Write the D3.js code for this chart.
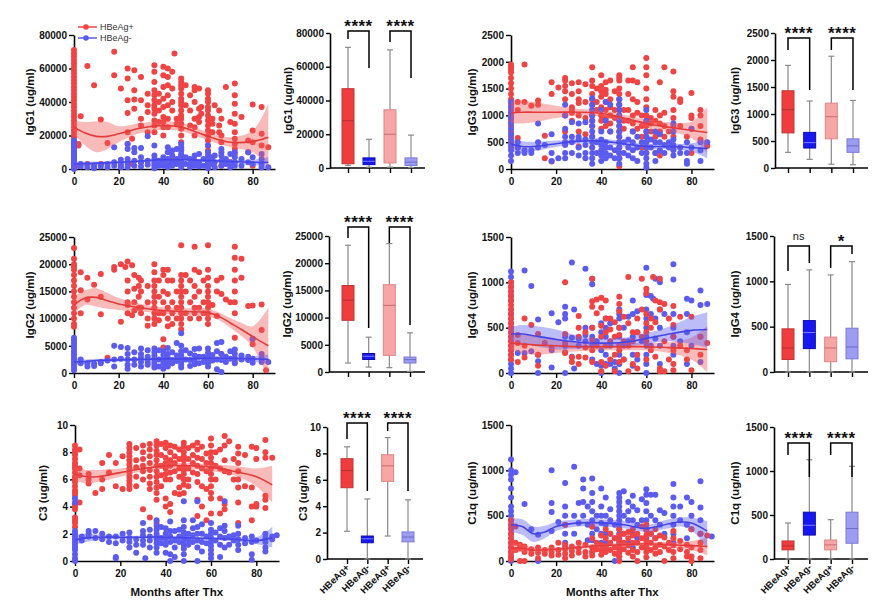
<!DOCTYPE html>
<html><head><meta charset="utf-8">
<script src="https://cdn.jsdelivr.net/npm/d3@7"></script>
<style>
body{margin:0;background:#fff;}
svg text{font-family:"Liberation Sans",Arial,Helvetica,sans-serif;}
</style></head><body>
<svg id="c" width="875" height="612"></svg>
<script>
// ---------------- DATA ----------------
const groups = ["HBeAg+", "HBeAg-"];
const boxCategories = ["HBeAg+", "HBeAg-", "HBeAg+ ", "HBeAg- "];
const monthTicks = [0, 20, 40, 60, 80];

// scatter values grouped by month: [month, [values...]]
const igg1Pos = [
 [0,[71e3,69e3,67e3,65e3,63e3,61e3,59e3,57e3,55e3,53e3,51e3,49e3,47e3,45e3,43e3,41e3,39e3,37e3,35e3,33e3,31e3,29e3,27e3,25e3,23e3,21e3,19e3,17e3,15e3,13e3,11e3,9e3,7e3,5e3,3e3,1e3]],
 [2,[15e3,14e3,2e3]],[3,[31.5e3]],[6,[61.5e3,3e3]],[9,[50e3,2e3]],[12,[29.5e3,3e3]],[15,[15.5e3]],
 [18,[70e3,56e3]],[21,[48e3,2e3]],[24,[60e3,54e3,41e3,33.5e3,22e3,15e3]],[26,[18e3,3e3]],
 [27,[59e3,47e3,41.5e3,36e3]],[30,[55e3,41e3,30e3,26e3,4e3]],[33,[45e3,38e3,34e3,22e3]],
 [36,[62e3,58e3,52e3,47e3,44e3,41e3,38e3,36e3,33e3,29e3,26e3,22e3,3e3]],[38,[45e3,40e3,35e3,28e3]],
 [40,[61e3,56e3,49e3,42e3,37e3,31e3,28e3,25e3,20e3,4e3]],[42,[60e3,55e3,50e3,44e3,38e3,30e3,25e3]],
 [44,[58e3,48e3,40e3,35e3,5e3]],[45,[69e3]],[46,[30e3,27e3]],
 [48,[54e3,52e3,50e3,48e3,45e3,42e3,40e3,38e3,35e3,32e3,30e3,27e3,24e3,20e3,16e3,12e3,8e3,4e3]],
 [50,[50e3,38e3]],[52,[44e3,35e3,26e3]],[54,[49e3,47e3,40e3,30e3,25e3,20e3]],[56,[48e3,36e3,31e3,28e3]],
 [57,[37e3,33e3]],[60,[47e3,45e3,42e3,40e3,37e3,35e3,32e3,29e3,26e3,23e3,20e3,17e3,14e3,11e3,3e3]],
 [62,[30e3,27e3,22e3]],[63,[38e3]],[65,[35e3,26e3,22e3]],[66,[30e3,20e3,16e3,2e3]],[68,[49e3]],[70,[28e3,4e3]],
 [72,[51e3,44e3,39e3,33e3,27e3,22e3,18e3,15e3,12e3,9e3]],[75,[31e3]],[78,[17e3,10e3]],
 [80,[38.5e3,23e3,16e3,2e3]],[84,[37e3,21e3,14e3]],[87,[13e3]]
];
const igg1Neg = [
 [0,[17e3,16e3,15e3,14e3,13e3,12e3,11e3,10e3,9e3,8e3,7e3,6e3,5e3,4e3,3e3,2e3,1e3,0]],
 [3,[3e3,1.5e3]],[6,[2.5e3,1e3]],[9,[2e3,0.5e3]],[12,[2.5e3,1.5e3]],[15,[3e3,1e3]],[18,[13e3,4e3,2e3]],
 [21,[5.5e3,3e3,1e3]],[24,[15e3,12e3,6e3,3e3,1e3]],[27,[12.5e3,10e3,5e3,2e3]],[30,[12.5e3,7e3,4e3,1.5e3]],
 [33,[19.5e3,5e3,2.5e3]],[36,[14e3,8e3,6e3,4e3,2e3,0.5e3]],[38,[5e3,2e3]],[40,[7e3,4e3,2e3]],
 [42,[13e3,10e3,6e3,3e3,1e3]],[44,[11e3,8e3,4e3,2e3]],[46,[12e3,6e3,3e3]],
 [48,[15e3,13e3,11e3,9e3,7e3,5e3,3e3,1e3]],[50,[7e3,3e3]],[52,[6e3,3e3,1e3]],[54,[8e3,5e3,2e3]],
 [56,[9e3,4e3,1.5e3]],[58,[6e3,2e3]],[60,[14e3,10e3,8e3,6e3,4e3,2e3,0.5e3]],[62,[7e3,3e3]],[63,[8e3,4e3,1e3]],
 [66,[12e3,10e3,8e3,5e3,2e3]],[68,[6e3,3e3]],[70,[9e3,4e3,1e3]],[72,[10e3,7e3,4e3,2e3]],[75,[6e3,2e3]],
 [78,[10e3,4e3]],[80,[7e3,3e3]],[84,[9e3,6e3,3e3,1e3]],[87,[1e3]]
];
// fitted curve: [month, fit, lower, upper]
const igg1FitPos = [[0,25e3,21e3,29e3],[5,21.5e3,14e3,28e3],[10,19.5e3,10e3,28.5e3],[15,19.5e3,12e3,28e3],[20,21e3,16e3,25.5e3],[30,24.5e3,21.5e3,27.5e3],[40,26e3,23.5e3,28.5e3],[48,25e3,22.5e3,27.5e3],[55,22e3,19.5e3,24.5e3],[60,19.5e3,17e3,22e3],[70,16e3,13e3,19e3],[80,16.5e3,10e3,23e3],[87,19e3,1e3,39e3]];
const igg1FitNeg = [[0,3e3,1.5e3,4.5e3],[10,3.5e3,2.5e3,4.5e3],[20,4e3,3.2e3,4.8e3],[30,4.8e3,4e3,5.6e3],[40,5.5e3,4.7e3,6.3e3],[50,5.5e3,4.7e3,6.3e3],[60,5e3,4.2e3,5.8e3],[70,4.5e3,3.5e3,5.5e3],[80,4e3,2.5e3,5.5e3],[87,4e3,1e3,7e3]];

const igg3Pos = [
 [0,[1950,1900,1850,1800,1700,1600,1500,1400,1300,1200,1100,1000,950,900,800,700,600,500,400]],
 [3,[1250,1100,580,400]],[6,[1950,1250]],[9,[1180]],[12,[1280,1200]],[15,[620,200]],[18,[1620,1400,140]],
 [21,[1520]],[24,[1700,1650,1550,1450,1300,1000,700,480]],[27,[1600,1400,1150,1100,1050,900]],
 [30,[1620,1450,1300,1230,1000,700,420]],[33,[1580,1250,950,650]],
 [36,[1900,1650,1550,1400,1300,1200,1100,1000,900,800,600,400]],[38,[1500,1250,1100]],
 [40,[1750,1550,1450,1350,1150,1000,900,750]],[42,[1620,1480,1400,1250,1100,950,800]],
 [44,[1650,1300,1150,1000,850,700]],[46,[1450,1100,950]],
 [48,[1750,1700,1650,1500,1400,1300,1200,1100,1000,900,800,700,600,500,400,300,200,50]],
 [50,[1100,900,750]],[52,[1650,1400,1100,900]],[54,[1900,1650,1300,1000,850,700]],[56,[1620,1250,1050,750]],
 [58,[1000,800,600,400]],[60,[2070,1900,1750,1500,1300,1150,1000,900,800,700,600,500,400,300]],
 [62,[950,850,700]],[64,[1100,900,600,300]],[66,[1620,1000,850,700,250]],[68,[1900,1050,800,600]],[70,[700]],
 [72,[1820,1450,1350,1100,950,800,600,400]],[75,[1300,1250,800]],[78,[600]],[80,[1420,1000,950,750,300]],
 [84,[1100,1000,800,550]],[87,[450,430]]
];
const igg3Neg = [
 [0,[1250,1150,1050,950,850,750,650,550,450,350,250,150]],[3,[500,400,300]],[6,[350,300]],[9,[350,300]],
 [12,[850,500,400]],[15,[450]],[18,[650,300,150]],[21,[200]],[24,[1200,1000,750,600,500,450,300,200]],
 [27,[870,600,500,300]],[30,[850,600,550,400,250]],[33,[870,550,450,300,200]],
 [36,[1320,1200,1100,1000,900,800,700,600,500,400,300,200,100]],[38,[500,300]],
 [40,[1100,700,550,450,350,250,150]],[42,[1250,900,500,400,300,200]],[44,[1200,700,400,250]],[46,[350,200]],
 [48,[1300,1200,1100,1000,900,800,700,600,500,400,300,200,100]],[50,[500,300]],[52,[550,400,250]],
 [54,[700,500,350,200]],[56,[600,400,150]],[58,[500,300]],[60,[1100,900,700,600,500,400,300,200,100,30]],
 [62,[550,400]],[64,[700,500,300,150]],[66,[650,500,350]],[68,[450,300]],[70,[500,400]],
 [72,[850,700,550,450,350,250]],[75,[400,300]],[78,[500,300,150,100]],[80,[750,400]],[84,[500,350,150]],[87,[500]]
];
const igg3FitPos = [[0,1050,850,1280],[5,1060,850,1280],[10,1060,870,1250],[20,1060,950,1180],[30,1060,1000,1120],[40,1040,980,1100],[50,950,890,1010],[60,850,780,920],[70,780,700,870],[80,720,580,880],[87,680,300,1150]];
const igg3FitNeg = [[0,470,330,560],[5,420,300,520],[10,420,330,510],[20,470,410,530],[30,520,470,570],[40,520,470,570],[50,470,420,520],[60,420,370,470],[70,420,370,470],[80,400,320,480],[87,380,200,560]];

const igg2Pos = [
 [0,[23e3,21e3,20e3,19.5e3,19e3,18e3,17e3,16e3,15e3,14e3,13e3,12e3,11e3,10e3,9e3,8.5e3]],
 [3,[18.5e3,15.2e3,11e3]],[6,[17.5e3,13.5e3]],[9,[16.2e3]],[12,[18.2e3,14e3,10.8e3]],[15,[2.8e3]],
 [18,[19.5e3,19e3]],[21,[20e3,9.4e3]],[23,[19.5e3]],[24,[20.5e3,17e3,15e3,13e3,12.5e3,11e3]],[26,[19.8e3,10.6e3]],
 [27,[18e3,15.5e3,13e3,11.5e3]],[29,[17.5e3,16e3,14e3,12e3]],[30,[17e3,15e3,12e3,11e3]],[33,[16e3,13e3,10e3,8.7e3]],
 [36,[20e3,18.5e3,17e3,16e3,15e3,14e3,13e3,12e3,11e3,10e3,9e3]],[38,[17e3,14e3,11e3,9.7e3]],
 [40,[19e3,18e3,15e3,13e3,11e3,6.2e3,4.7e3]],[42,[19e3,17e3,14.5e3,12e3,10e3,8.6e3]],[44,[17e3,13e3,11e3,9e3]],
 [46,[15e3,12e3,10e3]],[48,[23.5e3,18e3,17e3,16e3,15e3,14e3,13e3,12e3,11e3,10e3,9e3,8e3]],
 [50,[18e3,15e3,11e3]],[52,[17e3,13e3,10e3]],[54,[23.2e3,19e3,16e3,14e3,12e3,11e3]],[56,[18.5e3,15e3,12e3,10e3]],
 [58,[17e3,13e3,11e3]],[60,[23.5e3,19e3,17.5e3,16e3,15e3,14e3,13e3,12e3,11e3,10e3,9e3]],[62,[12.5e3]],
 [64,[17e3,15e3,10.5e3]],[66,[17.5e3,14.5e3,3.5e3]],[68,[13.5e3]],[70,[13e3]],
 [72,[23.2e3,21.2e3,19e3,17e3,15e3,13e3,11e3,6.5e3,2e3]],[75,[21e3,17.5e3]],[78,[12.3e3]],
 [80,[12.4e3,6.2e3,5.3e3]],[84,[12.6e3,7.9e3]],[86,[0.5e3]]
];
const igg2Neg = [
 [0,[6.5e3,6e3,5.5e3,5e3,4.5e3,4e3,3.5e3,3e3,2.5e3,2e3,1.5e3,1e3,0.5e3]],[3,[2.5e3,1.8e3]],[6,[1.8e3,1.2e3]],
 [9,[1.7e3,1.3e3]],[12,[2e3,1.8e3]],[15,[2.3e3]],[18,[5e3,2.5e3,1.2e3]],[21,[4.8e3,2.6e3]],
 [24,[4.6e3,3.5e3,2.5e3,1.5e3,0.8e3]],[27,[3.8e3,2.5e3,1.5e3]],[30,[4.5e3,3.5e3,2.8e3,2e3,1.2e3]],
 [33,[4.2e3,3e3,2e3,1.5e3]],[36,[4.5e3,3.8e3,3.2e3,2.6e3,2e3,1.5e3,1e3]],[38,[4.2e3,2.5e3,1.2e3]],
 [40,[4e3,3.3e3,2.5e3,1.8e3,0.8e3]],[42,[4.6e3,3.5e3,2.7e3,2e3,1.2e3]],[44,[3.8e3,2.4e3,1.8e3]],
 [46,[5.5e3,3.2e3,2.2e3]],[48,[7.3e3,5e3,4e3,3.3e3,2.6e3,2e3,1.5e3,1e3]],[50,[4.2e3,2.5e3]],
 [52,[3.6e3,2.4e3,1.3e3]],[54,[4.4e3,3.2e3,2.3e3,1.6e3]],[56,[4.5e3,3e3,1.8e3]],[58,[3e3,2e3]],
 [60,[4.5e3,3.7e3,3e3,2.4e3,1.8e3,1.2e3]],[62,[3.3e3,2.3e3]],[64,[5.5e3,4e3,2.5e3,0.7e3]],
 [66,[5.7e3,3.5e3,2.4e3,0.2e3]],[68,[3e3,2e3]],[70,[4e3,2.6e3]],[72,[4.3e3,3.5e3,2.6e3,1.8e3]],
 [75,[3.2e3,2.5e3]],[78,[3e3,2.4e3]],[80,[6.3e3,2.6e3,1.9e3]],[84,[3.5e3,2.6e3,2e3]],[87,[2e3]]
];
const igg2FitPos = [[0,12.5e3,11e3,14e3],[5,13.8e3,12.5e3,15.2e3],[10,13.9e3,12.2e3,15.6e3],[15,13.3e3,11.8e3,14.7e3],[20,12.7e3,11.6e3,13.8e3],[30,12e3,11.3e3,12.7e3],[40,11.5e3,10.9e3,12.1e3],[50,11.3e3,10.7e3,11.9e3],[60,11.1e3,10.4e3,11.8e3],[65,10.4e3,9.7e3,11.1e3],[70,9.2e3,8.3e3,10.1e3],[75,8e3,6.8e3,9.2e3],[80,6.7e3,4.8e3,8.6e3],[87,5e3,-1e3,12e3]];
const igg2FitNeg = [[0,2e3,1.5e3,2.7e3],[5,2.1e3,1.7e3,2.5e3],[10,2.3e3,2e3,2.6e3],[20,2.4e3,2.1e3,2.7e3],[30,2.5e3,2.2e3,2.8e3],[40,2.6e3,2.3e3,2.9e3],[50,2.6e3,2.3e3,2.9e3],[60,2.7e3,2.4e3,3e3],[70,2.7e3,2.3e3,3.1e3],[80,2.6e3,2.1e3,3.1e3],[87,2.5e3,1.7e3,3.4e3]];

const igg4Pos = [
 [0,[1000,950,900,850,800,750,700,650,600,550,500,450,400,350,300,250,200,150]],[3,[420,330,120]],[6,[600,300,170]],
 [9,[530]],[12,[430,200,80]],[15,[330]],[18,[280]],[24,[1000,430,330,220]],[27,[170,120]],[30,[630,500,400,180,100]],
 [33,[450,280,170]],[36,[1040,790,730,500,360,250,120]],[38,[810,660,300]],[40,[830,720,520,400,120,20]],
 [42,[800,600,450,300,80]],[44,[600,480,350,150]],[46,[560,400,200,20]],[48,[840,760,680,500,420,300,250,120]],
 [50,[620,350,150]],[52,[1060,550,300,20]],[54,[450,350,100]],[56,[600,450,200,50]],[58,[1040,700,400]],
 [60,[930,880,650,550,450,350,150]],[62,[600,500,250]],[63,[1060]],[64,[800,560,180]],[66,[1040,780,700,50,20]],
 [68,[760,350,20]],[70,[600,150]],[72,[740,530,400,250,100,30]],[75,[620,300]],[78,[250,150]],[80,[620,30]],
 [84,[400,200]],[87,[330]]
];
const igg4Neg = [
 [0,[1120,1060,1000,950,900,850,800,700,650,600,550,500,450,400,350,300,250,200,150,100,50,0]],[3,[220]],
 [6,[1130,220]],[9,[960,240]],[12,[590,200,130,0]],[18,[660,250,60]],[21,[560]],[24,[730,650,600,400,300,230,0]],
 [27,[1220,390,180]],[28,[700,50]],[30,[380,300]],[33,[1150,500,420,350]],[36,[1040,980,500,400,300,150]],
 [38,[350,100]],[40,[550,450,250,80,0]],[42,[600,500,400,200,100]],[44,[550,300,100]],[46,[120,50]],
 [48,[700,650,600,500,400,300,200,100,0]],[50,[500,300,150]],[52,[620,350]],[54,[800,650,400,200,80]],
 [56,[680,450,150]],[58,[350]],[60,[1160,860,700,600,500,400,300,200,100,0]],[62,[850,650,300]],[63,[820]],
 [64,[1040,600,380]],[66,[1000,700,500,300,100]],[68,[650]],[72,[1200,1030,650,500,400,300,200]],[75,[350]],
 [78,[820,650,450,100]],[80,[800,300]],[84,[910,750,400,120]],[87,[760]]
];
const igg4FitPos = [[0,330,250,420],[5,320,220,420],[10,310,200,420],[20,300,220,380],[30,290,240,340],[40,290,250,330],[50,290,250,330],[60,290,250,330],[70,280,220,340],[80,270,150,390],[87,260,10,520]];
const igg4FitNeg = [[0,430,350,510],[5,430,330,530],[10,410,300,520],[20,370,260,480],[30,340,270,410],[40,330,280,380],[50,340,290,390],[60,380,320,440],[70,430,350,510],[80,470,320,620],[87,480,280,670]];

const c3Pos = [
 [0,[8.5,8.2,8,7.8,7.5,7.2,7,6.8,6.5,6.2,6,5.8,5.5,5.2,5,4.8,4.2,4,3.8,3.2,3,2.8,2.5]],[2,[8.2,6.8,6.3,4.3]],
 [6,[6.4,6,5.7]],[9,[5]],[12,[7.2,6,5.3]],[15,[7.8,6.5]],[18,[7.2,5.5]],[21,[7.7,5.3]],
 [24,[8.6,8.3,8,7.7,7.4,7.1,6.8,6.5,6.2,5.9,5.6,5.3]],[27,[8.3,7.4,6.9,6.2,5.5]],[30,[8.5,8,7.5,7,6.6,6,3.8]],
 [33,[8.6,8.2,7.7,7.2,6.7,6.2,5.7,5.3,3.2]],[36,[8.8,8.5,8.1,7.8,7.4,7,6.6,6.2,5.8,5.4,5,4.5,2.8]],
 [38,[8.6,7.8,7,6.3,5.5]],[40,[8.7,8.3,7.6,7.2,6.8,6.4,6,4.6,4]],[42,[8.5,8,7.4,7,6.5,6,4.2,3.6]],
 [44,[8.4,7.7,7.2,6.6,5]],[46,[8.2,7.5,6.8,6.2,5.4,4.9]],[48,[8.7,8.4,8,7.7,7.4,7,6.7,6.4,6,5.6,5]],
 [50,[8.3,7.5,6.8,6,5.5]],[52,[8.5,7.8,7.2,6.5]],[54,[8.7,8.2,7.6,7,6.4,5.8,4.5,3.3]],[56,[8.4,7.5,6.8,5.5,4]],
 [58,[7.9,7.2,6.6,5.3,3]],[60,[9,8.5,8,7.6,7.2,6.8,6.4,6,5.5,5,4.6,3.5]],[62,[8,7,6]],[64,[8.2,6.8,4.6,3.5]],
 [66,[9.2,8.5,7.4,6.6,4.2,3.8]],[68,[8.8,6.5]],[70,[7.5,6]],[72,[8.4,7.9,7.2,6.6,6,5.4,4.3,2.8]],[75,[7.8,5.5]],
 [78,[8.4,5.4,4,3]],[80,[8.3,7.5,4.2,4]],[84,[8.9,8,7.6,4.8,4.5,3.9]],[87,[7.6]]
];
const c3Neg = [
 [0,[4.6,4.3,2.2,2,1.8,1.6,1.4,1.2,1,0.8,0.5,0.2,0]],[3,[1.8,1.5]],[6,[2.2,2,1.8]],[9,[2.2,1.7]],[12,[2,1.6]],
 [15,[1.8,1.4]],[18,[1.8,1.3,0.3,0.2]],[21,[2,1.5]],[24,[2.1,1.7,1.4,1]],[27,[1.6,1.2,0.6]],[30,[2.8,2.2,1.9,1.5,1.2]],
 [31,[0.2]],[33,[2.3,1.8,1.5,1]],[36,[3,2.6,2.3,2,1.8,1.6,1.3,1,0.6]],[38,[2.5,1.7,1.3]],[40,[2.4,2,1.6,1.2,0.6]],
 [42,[2.9,2.2,1.8,1.4,0.5,0]],[44,[2.2,1.5,1,0.3]],[46,[2.3,1.8,1.4]],[48,[4.4,3,2.5,2.1,1.8,1.5,1.2,0.9,0.5,0]],
 [50,[2,1.6,1.2]],[52,[3,2.4,1.9,1.4]],[54,[4.4,2.5,2,1.5,1,0]],[56,[2.7,2,1.4,0.7]],[58,[1.8,1.3]],
 [60,[2.8,2.3,2,1.7,1.4,1.1,0.8,0.5,0.2]],[62,[2.1,1.5]],[64,[2.4,1.8,1.2,0.3]],[66,[4.4,2.6,2.2,1.7,1]],
 [68,[1.8,1.2]],[70,[1.9,1.5]],[72,[2.6,2,1.6,1.2,0.8]],[75,[1.7,1.3]],[78,[1.8,1.4,0.5,0.1]],[80,[1.5]],
 [84,[2,1.7,1.4,1,0.7]],[87,[1.8,1.6]],[89,[1.9]]
];
const c3FitPos = [[0,6.4,5.9,6.9],[5,6.2,5.7,6.7],[10,6.2,5.8,6.7],[20,6.5,6.2,6.8],[30,6.8,6.6,7.0],[40,7.0,6.8,7.2],[50,7.0,6.8,7.2],[60,6.9,6.6,7.1],[70,6.6,6.3,7.0],[80,6.2,5.5,6.8],[87,5.6,4.3,7.0]];
const c3FitNeg = [[0,1.55,1.2,1.9],[5,1.7,1.4,2.0],[10,1.75,1.55,1.95],[20,1.75,1.6,1.9],[30,1.75,1.65,1.85],[40,1.75,1.65,1.85],[50,1.7,1.6,1.8],[60,1.65,1.55,1.75],[70,1.6,1.45,1.75],[80,1.5,1.25,1.75],[87,1.7,1.0,2.5]];

const c1qPos = [
 [0,[450,400,350,300,250,200,150,100,50,20]],[2,[380,200,120]],[4,[180,140,0]],[6,[160,100,0]],[9,[130,80]],
 [12,[150,90,30]],[15,[120,80]],[18,[150,100,60]],[21,[200,120,70]],[24,[400,180,130,80,30]],[27,[160,110,60]],
 [30,[200,140,90]],[33,[180,100,50]],[36,[380,250,150,100,60]],[38,[200,130]],[40,[280,180,120,70]],
 [42,[350,250,160,100]],[44,[300,200,120]],[46,[250,150,80]],[48,[350,280,220,160,100,50,0]],[50,[300,200,130]],
 [52,[320,250,170,90]],[54,[350,280,200,120,50]],[56,[300,200,100,0]],[58,[380,250,150]],
 [60,[400,340,280,220,160,100,40]],[62,[300,200,120]],[64,[350,250,150,80]],[66,[280,180,100]],[68,[260,160,0]],
 [70,[200,120]],[72,[330,250,170,100,30]],[75,[220,130]],[78,[180,100,50]],[80,[350,150,50,0]],
 [84,[300,200,120,30]],[87,[280]]
];
const c1qNeg = [
 [0,[1120,1000,950,900,800,700,600,550,500,450,400,350,300,250,200,150,100,50,0]],[2,[980]],[6,[630]],[9,[350]],
 [12,[290,0]],[18,[1000,640,540,330]],[21,[430]],[24,[860,600,500,400,300,200,150]],[28,[1040,500,300]],
 [30,[640,420]],[32,[900,800,650,500]],[34,[600,400,230]],[36,[910,750,650,550,450,380,300,230,100]],
 [38,[500,350]],[40,[800,600,500,420,300,200]],[42,[700,500,400,300,200,150]],[44,[570,450,300]],[46,[400,250,0]],
 [48,[750,700,650,600,550,500,450,400,350,300,250,200,150,100,50]],[50,[770,500,300]],[52,[650,550,450,200]],
 [54,[720,600,450,300,150]],[56,[560,400,250]],[58,[680,450]],[60,[790,730,640,550,450,350,250,150]],
 [62,[730,500,300]],[64,[730,450,250]],[66,[560,400]],[68,[530,300]],[72,[850,700,600,500,400,300,200]],
 [75,[600,450]],[78,[700,400,250]],[80,[650,500,350]],[84,[880,590,450,300]],[89,[270]]
];
const c1qFitPos = [[0,140,80,200],[5,140,100,180],[10,120,90,150],[20,130,110,150],[30,150,130,170],[40,170,150,190],[50,180,160,200],[60,190,170,210],[70,180,150,210],[80,170,120,220],[87,160,60,260]];
const c1qFitNeg = [[0,400,320,470],[5,380,290,460],[10,300,210,380],[15,320,250,390],[20,380,330,430],[30,420,380,460],[40,420,380,460],[50,400,360,440],[60,360,320,400],[70,410,360,460],[75,430,380,480],[80,420,340,480],[87,330,140,440]];

// box summaries: [min, q1, median, q3, max] for the 4 boxes
const igg1Box = [[1500,2500,28000,47000,71500],[500,2000,4000,6000,17000],[500,3000,20000,34500,70000],[300,1500,3500,6000,19500]];
const igg3Box = [[290,650,1080,1430,1900],[160,370,470,660,1240],[70,540,950,1200,2070],[60,290,410,540,1250]];
const igg2Box = [[1650,9500,13200,15900,23300],[900,2300,2900,3400,6400],[800,3060,12250,16050,23600],[100,1650,2270,2750,7200]];
const igg4Box = [[0,138,265,476,966],[0,258,436,567,1126],[0,113,265,385,1071],[0,145,276,483,1217]];
const c3Box = [[2.1,5.4,6.7,7.6,8.5],[0,1.23,1.53,1.74,4.55],[1.74,5.88,7.06,7.9,9.2],[0,1.3,1.66,2.05,4.48]];
const c1qBox = [[0,104,149,205,409],[0,272,383,532,1128],[0,104,160,216,447],[0,179,346,532,1053]];

const igg1Sig = ["****","****"];
const igg3Sig = ["****","****"];
const igg2Sig = ["****","****"];
const igg4Sig = ["ns","*"];
const c3Sig = ["****","****"];
const c1qSig = ["****","****"];

// ---------------- STYLE / LAYOUT ----------------
const RED = "#f04343", BLUE = "#5b5bef";
const BAND_RED = "rgba(240,90,90,0.42)", BAND_BLUE = "rgba(95,95,240,0.42)";
const LINE_RED = "#e43a3a", LINE_BLUE = "#4646e6";
const BOX_FILL = ["#f03c3c","#1717f0","#f7a6a6","#9c9cf2"];
const BOX_STROKE = ["#c23535","#0c0cb0","#df8585","#7b7bd6"];
const MED_STROKE = ["#b52f2f","#7d7dff","#c96a6a","#6d6dc8"];
const WHISK = "#8a8a8a";

const svg = d3.select("#c");

const rows = [{yb:169,yt:35},{yb:373,yt:237},{yb:561,yt:425}];
const boxRows = [{yb:168,yt:33},{yb:372,yt:236},{yb:559,yt:427}];

const scatterPanels = [
 {title:"IgG1 (ug/ml)", pos:igg1Pos, neg:igg1Neg, fp:igg1FitPos, fn:igg1FitNeg, max:80000, step:20000, x0:74, x1:275, row:0, lx:30, negTop:true, legend:true},
 {title:"IgG3 (ug/ml)", pos:igg3Pos, neg:igg3Neg, fp:igg3FitPos, fn:igg3FitNeg, max:2500, step:500, x0:511, x1:714, row:0, lx:472, negTop:true},
 {title:"IgG2 (ug/ml)", pos:igg2Pos, neg:igg2Neg, fp:igg2FitPos, fn:igg2FitNeg, max:25000, step:5000, x0:74, x1:275, row:1, lx:30, negTop:true},
 {title:"IgG4 (ug/ml)", pos:igg4Pos, neg:igg4Neg, fp:igg4FitPos, fn:igg4FitNeg, max:1500, step:500, x0:511, x1:714, row:1, lx:472, negTop:false},
 {title:"C3 (ug/ml)", pos:c3Pos, neg:c3Neg, fp:c3FitPos, fn:c3FitNeg, max:10, step:2, x0:75, x1:279, row:2, lx:43, negTop:true, xlabel:true},
 {title:"C1q (ug/ml)", pos:c1qPos, neg:c1qNeg, fp:c1qFitPos, fn:c1qFitNeg, max:1500, step:500, x0:511, x1:714, row:2, lx:472, negTop:false, xlabel:true}
];

// brackets: [barOffset, leftLegEnd, rightLegEnd] offsets in px from plot top
const boxPanels = [
 {title:"IgG1 (ug/ml)", stats:igg1Box, sig:igg1Sig, max:80000, step:20000, ax:330, c0:348, c1:411, end:425, row:0, lx:288, br:[[-2,6,35],[-2,9,45]]},
 {title:"IgG3 (ug/ml)", stats:igg3Box, sig:igg3Sig, max:2500, step:500, ax:775, c0:788, c1:853, end:868, row:0, lx:735, br:[[5,17,57],[5,17,57]]},
 {title:"IgG2 (ug/ml)", stats:igg2Box, sig:igg2Sig, max:25000, step:5000, ax:329, c0:348, c1:410, end:425, row:1, lx:287, br:[[-9,2,92],[-9,7,89]]},
 {title:"IgG4 (ug/ml)", stats:igg4Box, sig:igg4Sig, max:1500, step:500, ax:774, c0:788, c1:852, end:868, row:1, lx:735, br:[[10,35,27],[10,32,18]]},
 {title:"C3 (ug/ml)", stats:c3Box, sig:c3Sig, max:10, step:2, ax:327, c0:347, c1:408, end:423, row:2, lx:303, br:[[-4,12,64],[-4,4,64]], xlabels:true},
 {title:"C1q (ug/ml)", stats:c1qBox, sig:c1qSig, max:1500, step:500, ax:774, c0:788, c1:852, end:868, row:2, lx:735, br:[[16,28,50],[16,28,50]], xlabels:true}
];

function styleAxis(g){
  g.selectAll("path.domain").attr("stroke","#000").attr("stroke-width",1.6);
  g.selectAll(".tick line").attr("stroke","#000").attr("stroke-width",1.4);
  g.selectAll(".tick text").attr("fill","#111").attr("font-size",10).attr("font-weight","bold")
   .attr("font-family",'"Liberation Sans",Arial,sans-serif');
}
function yTitle(x, yc, text){
  svg.append("text").attr("transform",`translate(${x},${yc}) rotate(-90)`).attr("text-anchor","middle")
    .attr("dy","0.35em").attr("font-size",11.5).attr("font-weight","bold").attr("fill","#111").text(text);
}
const flat = arr => arr.flatMap(([m, vs]) => vs.map(v => [m, v]));

// ---------------- SCATTER PANELS ----------------
scatterPanels.forEach((p, i) => {
  const r = rows[p.row];
  const x = d3.scaleLinear().domain([0, 90]).range([p.x0, p.x1]);
  const y = d3.scaleLinear().domain([0, p.max]).range([r.yb, r.yt]);
  const g = svg.append("g");
  const clipId = "clip" + i;
  svg.append("clipPath").attr("id", clipId).append("rect")
    .attr("x", p.x0).attr("y", r.yt - 2).attr("width", p.x1 - p.x0 + 2).attr("height", r.yb - r.yt + 2);

  const xa = g.append("g").attr("transform", `translate(0,${r.yb})`)
    .call(d3.axisBottom(x).tickValues(monthTicks).tickSize(5).tickPadding(4).tickSizeOuter(0));
  styleAxis(xa);
  const yticks = d3.range(0, p.max + p.step / 2, p.step);
  const ya = g.append("g").attr("transform", `translate(${p.x0},0)`)
    .call(d3.axisLeft(y).tickValues(yticks).tickFormat(d3.format("d")).tickSize(5).tickPadding(2).tickSizeOuter(0));
  styleAxis(ya);

  const order = p.negTop ? [[p.pos, RED], [p.neg, BLUE]] : [[p.neg, BLUE], [p.pos, RED]];
  order.forEach(([data, col]) => {
    g.append("g").selectAll("circle").data(flat(data)).join("circle")
      .attr("cx", d => x(d[0])).attr("cy", d => y(d[1])).attr("r", 3).attr("fill", col);
  });

  const area = d3.area().x(d => x(d[0])).y0(d => y(d[2])).y1(d => y(d[3])).curve(d3.curveCatmullRom);
  const line = d3.line().x(d => x(d[0])).y(d => y(d[1])).curve(d3.curveCatmullRom);
  const fg = g.append("g").attr("clip-path", `url(#${clipId})`);
  fg.append("path").attr("d", area(p.fp)).attr("fill", BAND_RED);
  fg.append("path").attr("d", area(p.fn)).attr("fill", BAND_BLUE);
  fg.append("path").attr("d", line(p.fp)).attr("fill", "none").attr("stroke", LINE_RED).attr("stroke-width", 1.6);
  fg.append("path").attr("d", line(p.fn)).attr("fill", "none").attr("stroke", LINE_BLUE).attr("stroke-width", 1.6);

  yTitle(p.lx, (r.yb + r.yt) / 2, p.title);
  if (p.xlabel) {
    svg.append("text").attr("x", (p.x0 + x(88)) / 2 + 2).attr("y", 596).attr("text-anchor", "middle")
      .attr("font-size", 11.5).attr("font-weight", "bold").attr("fill", "#111").text("Months after Thx");
  }
  if (p.legend) {
    const lg = svg.append("g");
    [[groups[0], RED, 27], [groups[1], BLUE, 38]].forEach(([t, c, yy]) => {
      lg.append("line").attr("x1", 78).attr("x2", 97).attr("y1", yy).attr("y2", yy).attr("stroke", c).attr("stroke-width", 1.5);
      lg.append("circle").attr("cx", 86).attr("cy", yy).attr("r", 2.8).attr("fill", c);
      lg.append("text").attr("x", 100).attr("y", yy).attr("dy", "0.35em").attr("font-size", 9).attr("fill", "#333").text(t);
    });
  }
});

// ---------------- BOX PANELS ----------------
boxPanels.forEach(p => {
  const r = boxRows[p.row];
  const y = d3.scaleLinear().domain([0, p.max]).range([r.yb, r.yt]);
  const x = d3.scalePoint().domain(boxCategories).range([p.c0, p.c1]);
  const g = svg.append("g");
  const yticks = d3.range(0, p.max + p.step / 2, p.step);
  const ya = g.append("g").attr("transform", `translate(${p.ax},0)`)
    .call(d3.axisLeft(y).tickValues(yticks).tickFormat(d3.format("d")).tickSize(4).tickPadding(2).tickSizeOuter(0));
  styleAxis(ya);
  g.append("line").attr("x1", p.ax).attr("x2", p.end).attr("y1", r.yb).attr("y2", r.yb).attr("stroke", "#000").attr("stroke-width", 1.6);
  const xa = g.append("g").attr("transform", `translate(0,${r.yb})`)
    .call(d3.axisBottom(x).tickSize(5).tickFormat(""));
  xa.select("path.domain").remove();
  styleAxis(xa);

  const w = 12;
  p.stats.forEach((s, i) => {
    const cx = x(boxCategories[i]);
    const [mn, q1, md, q3, mx] = s;
    g.append("line").attr("x1", cx).attr("x2", cx).attr("y1", y(mx)).attr("y2", y(mn)).attr("stroke", WHISK).attr("stroke-width", 1.2);
    [mn, mx].forEach(v => g.append("line").attr("x1", cx - 3).attr("x2", cx + 3).attr("y1", y(v)).attr("y2", y(v)).attr("stroke", WHISK).attr("stroke-width", 1.2));
    g.append("rect").attr("x", cx - w / 2).attr("y", y(q3)).attr("width", w).attr("height", y(q1) - y(q3))
      .attr("fill", BOX_FILL[i]).attr("stroke", BOX_STROKE[i]).attr("stroke-width", 1);
    g.append("line").attr("x1", cx - w / 2).attr("x2", cx + w / 2).attr("y1", y(md)).attr("y2", y(md)).attr("stroke", MED_STROKE[i]).attr("stroke-width", 1);
  });

  // significance brackets
  p.br.forEach((b, k) => {
    const xl = x(boxCategories[2 * k]), xr = x(boxCategories[2 * k + 1]);
    const yb = r.yt + b[0];
    g.append("path").attr("d", `M${xl},${r.yt + b[1]}V${yb}H${xr}V${r.yt + b[2]}`)
      .attr("fill", "none").attr("stroke", "#000").attr("stroke-width", 1.5);
    const lab = p.sig[k];
    const isNs = lab === "ns";
    g.append("text").attr("x", (xl + xr) / 2).attr("y", isNs ? yb - 6 : yb + 1).attr("text-anchor", "middle")
      .attr("font-size", isNs ? 11 : 17).attr("font-weight", isNs ? "normal" : "bold").attr("fill", "#111")
      .attr("letter-spacing", isNs ? 0 : 0.5).text(lab);
  });

  yTitle(p.lx, (r.yb + r.yt) / 2, p.title);

  if (p.xlabels) {
    boxCategories.forEach(c => {
      g.append("text").attr("transform", `translate(${x(c) + 3},${r.yb + 9}) rotate(-45)`)
        .attr("text-anchor", "end").attr("font-size", 9.5).attr("font-weight", "bold").attr("fill", "#111").text(c.trim());
    });
  }
});
</script>
</body></html>
